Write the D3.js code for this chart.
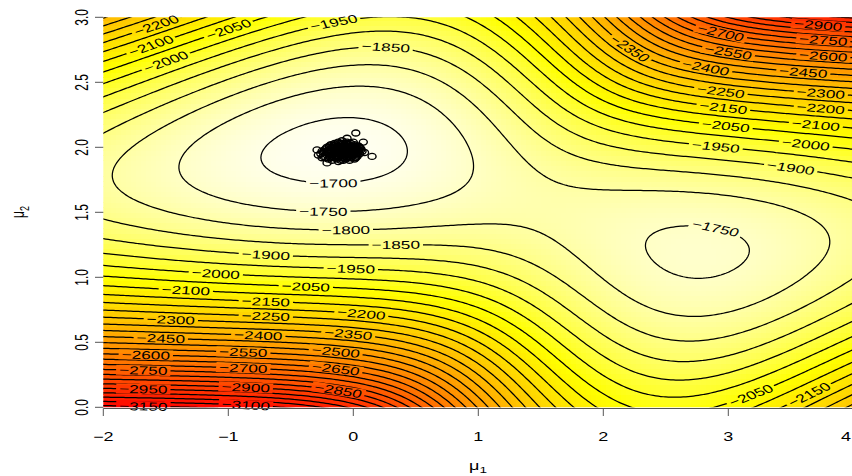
<!DOCTYPE html>
<html><head><meta charset="utf-8">
<script src="https://cdn.jsdelivr.net/npm/d3@7"></script>
<style>body{margin:0;background:#fff;overflow:hidden} text{font-family:"Liberation Sans",Arial,sans-serif}</style>
</head><body><svg id="c" width="852" height="476"></svg>
<script>
// ---------------- data ----------------
const mu1Ticks = [-2,-1,0,1,2,3,4];
const mu2Ticks = [0,0.5,1,1.5,2,2.5,3];
const levels = d3.range(-3300, -1650, 50);          // contour levels, step 50
// observed sample (n = 1005), binned: bin centres and counts
const sampleX = [-2.875,-2.625,-2.375,-2.125,-1.875,-1.625,-1.375,-1.125,-0.875,-0.625,-0.375,-0.125,0.125,0.375,0.625,0.875,1.125,1.375,1.625,1.875,2.125,2.375,2.625,2.875,3.125,3.375,3.625,3.875,4.125,4.375,4.625,4.875,5.125];
const sampleCounts = [1,1,2,3,4,6,8,11,15,19,39,29,34,41,47,55,63,71,77,80,80,75,66,55,42,31,21,13,8,4,2,1,1];
const mixWeight = 0.1983;   // weight of the N(mu1,1) component
// contour labels: [level, approx mu1, approx mu2]
const labelHints = [
[-2200,-1.573,2.94],[-2100,-1.613,2.79],[-2050,-1.0,2.89],[-2000,-1.493,2.67],
[-1950,-0.146,2.94],[-1850,0.267,2.735],[-2350,2.227,2.787],
[-2900,3.72,2.954],[-2700,2.947,2.915],[-2750,3.76,2.838],[-2550,3.0,2.76],[-2600,3.76,2.71],[-2400,2.814,2.633],[-2450,3.6,2.595],[-2250,2.947,2.44],[-2300,3.734,2.415],[-2150,2.96,2.312],[-2200,3.734,2.3],[-2050,2.987,2.172],[-2100,3.707,2.172],[-1950,2.907,2.018],[-2000,3.627,2.03],
[-1900,3.494,1.843],[-1750,2.907,1.364],[-1900,-0.693,1.185],[-2000,-1.093,1.031],
[-1700,-0.16,1.762],[-1750,-0.24,1.518],[-1800,-0.066,1.372],[-1850,0.347,1.254],[-1950,-0.013,1.064],
[-2100,-1.333,0.902],[-2150,-0.706,0.812],[-2300,-1.466,0.672],[-2250,-0.706,0.71],[-2450,-1.533,0.531],[-2400,-0.76,0.556],[-2600,-1.666,0.41],[-2550,-0.88,0.428],[-2750,-1.68,0.292],[-2700,-0.88,0.3],[-2950,-1.68,0.146],[-2900,-0.853,0.154],[-3150,-1.68,0.01],[-3100,-0.866,0.018],
[-2050,-0.386,0.928],[-2200,0.067,0.71],[-2350,-0.04,0.556],[-2500,-0.146,0.42],[-2650,-0.133,0.287],[-2850,-0.133,0.112],
[-2050,3.174,0.095],[-2150,3.654,0.095]];
// MCMC sample (mu1, mu2)
const chainPoints = [
[-0.20,1.91],[-0.13,1.91],[-0.06,1.91],[0.01,1.91],
[-0.24,1.93],[-0.17,1.93],[-0.11,1.93],[-0.04,1.93],[0.03,1.93],
[-0.26,1.95],[-0.19,1.95],[-0.12,1.95],[-0.08,1.95],[-0.02,1.95],[0.05,1.95],
[-0.25,1.97],[-0.18,1.97],[-0.14,1.97],[-0.09,1.97],[-0.03,1.97],[0.02,1.97],[0.07,1.97],
[-0.22,1.99],[-0.16,1.99],[-0.10,1.99],[-0.05,1.99],[0.00,1.99],[0.06,1.99],
[-0.19,2.01],[-0.12,2.01],[-0.07,2.01],[-0.01,2.01],[0.04,2.01],
[-0.15,2.03],[-0.08,2.03],[-0.02,2.03],
[-0.15,1.92],[-0.09,1.92],[-0.02,1.92],[-0.21,1.96],[-0.15,1.96],[-0.05,1.96],[0.01,1.96],
[-0.12,1.98],[-0.07,1.98],[0.04,1.98],[-0.14,2.00],[-0.03,2.00],[0.02,2.00],[-0.10,2.02],[-0.04,2.02],
[-0.14,1.94],[-0.06,1.94],[0.00,1.94],[-0.11,1.96],[-0.01,1.98],[-0.18,2.02],[-0.23,1.98],[-0.08,1.90],
[-0.17,1.90],[-0.10,1.90],[-0.03,1.90],[-0.22,1.92],[-0.12,1.92],[-0.05,1.92],[0.02,1.92],
[-0.21,1.94],[-0.17,1.94],[-0.10,1.94],[-0.03,1.94],[0.03,1.94],[-0.24,1.96],[-0.18,1.96],[-0.08,1.96],[-0.02,1.96],[0.04,1.96],
[-0.20,1.98],[-0.16,1.98],[-0.10,1.98],[-0.04,1.98],[0.01,1.98],[0.06,1.98],[-0.21,2.00],[-0.17,2.00],[-0.10,2.00],[-0.06,2.00],[0.00,2.00],[0.05,2.00],
[-0.15,2.02],[-0.07,2.02],[0.01,2.02],[-0.12,2.04],[-0.05,2.04],[0.00,2.04],[-0.09,2.05],[-0.05,2.07],[0.08,2.04],
[-0.19,1.93],[-0.13,1.93],[-0.07,1.93],[-0.01,1.93],[-0.16,1.95],[-0.10,1.95],[-0.05,1.95],[0.02,1.95],
[-0.21,1.97],[-0.12,1.97],[-0.06,1.97],[0.04,1.97],[-0.13,1.99],[-0.08,1.99],[-0.02,1.99],[0.03,1.99],
[-0.16,2.01],[-0.09,2.01],[-0.04,2.01],[0.01,2.01],[-0.11,2.03],[-0.05,2.03],[-0.18,1.92],[-0.08,1.92],
[0.02,2.11],[0.15,1.93],[-0.29,1.98],[-0.25,1.92],[-0.21,1.88],[-0.12,1.89],[-0.28,1.94],[0.09,1.96]];

// ---------------- layout ----------------
const W=852,H=476,SX=1.5;   // SX: horizontal stretch of glyphs in the original
const xS=d3.scaleLinear().domain([-2,4]).range([103.3,853.3]);
const yS=d3.scaleLinear().domain([0,3]).range([407.3,17.3]);
const svg=d3.select('#c');
const defs=svg.append('defs');
defs.append('clipPath').attr('id','plotclip').append('rect').attr('x',xS(-2)).attr('y',yS(3)).attr('width',xS(4)-xS(-2)).attr('height',yS(0)-yS(3));

// ---------------- log-likelihood surface ----------------
const SQ2PI=Math.sqrt(2*Math.PI);
const phi=z=>Math.exp(-0.5*z*z)/SQ2PI;
const step=0.02,m1s=-2.06,m2s=-0.06;
const nx=Math.round((4.06-m1s)/step)+1, ny=Math.round((3.06-m2s)/step)+1;
const phiX=d3.range(nx).map(i=>sampleX.map(x=>phi(x-(m1s+i*step))));
const phiY=d3.range(ny).map(j=>sampleX.map(x=>phi(x-(m2s+j*step))));
const vals=new Float64Array(nx*ny);
for(let j=0;j<ny;j++)for(let i=0;i<nx;i++){let L=0;const a=phiX[i],b=phiY[j];for(let k=0;k<sampleX.length;k++)L+=sampleCounts[k]*Math.log(mixWeight*a[k]+(1-mixWeight)*b[k]);vals[j*nx+i]=L;}
let zmin=Infinity,zmax=-Infinity;
for(let j=0;j<ny;j++)for(let i=0;i<nx;i++){const m1=m1s+i*step,m2=m2s+j*step;if(m1<-2||m1>4||m2<0||m2>3)continue;const v=vals[j*nx+i];if(v<zmin)zmin=v;if(v>zmax)zmax=v;}
// R heat.colors style: red -> yellow -> near white
function heat(f){f=Math.max(0,Math.min(1,f));if(f<0.75)return `rgb(255,${Math.round(255*f/0.75)},0)`;const s=1-(f-0.75)/0.25*0.95;return `rgb(255,255,${Math.round(255*(1-s))})`;}
const cells=[];
for(let j=3;j<ny;j+=2)for(let i=3;i<nx;i+=2){const m1=m1s+i*step,m2=m2s+j*step;if(m1<-2.03||m1>4.03||m2<-0.03||m2>3.03)continue;cells.push([m1,m2,vals[j*nx+i]]);}
svg.append('g').attr('clip-path','url(#plotclip)').selectAll('rect').data(cells).join('rect')
  .attr('x',d=>xS(d[0]-0.02)).attr('y',d=>yS(d[1]+0.02)).attr('width',xS(0.04)-xS(0)+0.6).attr('height',yS(0)-yS(0.04)+0.6)
  .attr('fill',d=>heat((d[2]-zmin)/(zmax-zmin))).attr('shape-rendering','crispEdges');

// ---------------- contours ----------------
const contours=d3.contours().size([nx,ny]).thresholds(levels)(Array.from(vals));
const proj=(x,y)=>[xS(m1s+(x-0.5)*step),yS(m2s+(y-0.5)*step)];
const path=d3.geoPath(d3.geoTransform({point(x,y){const p=proj(x,y);this.stream.point(p[0],p[1]);}}));
const mask=defs.append('mask').attr('id','lblmask').attr('maskUnits','userSpaceOnUse').attr('x',0).attr('y',0).attr('width',W).attr('height',H);
mask.append('rect').attr('width',W).attr('height',H).attr('fill','white');
svg.append('g').attr('clip-path','url(#plotclip)').append('g').attr('mask','url(#lblmask)')
  .selectAll('path').data(contours).join('path').attr('d',path).attr('fill','none').attr('stroke','#000').attr('stroke-width',1.25);
const lblG=svg.append('g');
const x0=xS(-2),x1=xS(4),y0=yS(3),y1=yS(0);
labelHints.forEach(([lev,m1,m2])=>{
  const c=contours.find(c=>c.value===lev); if(!c)return;
  const hx=xS(m1),hy=yS(m2); let bestD=Infinity,bp=null,ring=null,bi=0;
  c.coordinates.forEach(poly=>poly.forEach(r=>{r.forEach((pt,i)=>{const q=proj(pt[0],pt[1]);if(q[0]<x0||q[0]>x1||q[1]<y0||q[1]>y1)return;const d=(q[0]-hx)**2+(q[1]-hy)**2;if(d<bestD){bestD=d;bp=q;ring=r;bi=i;}});}));
  if(!bp)return;
  const n=ring.length; const pa=proj(...ring[(bi-5+n)%n]), pb=proj(...ring[(bi+5)%n]);
  let ang=Math.atan2(pb[1]-pa[1],(pb[0]-pa[0])/SX)*180/Math.PI; if(ang>90)ang-=180; if(ang<-90)ang+=180;
  const tr=`translate(${bp[0]},${bp[1]}) scale(${SX},1) rotate(${ang})`;
  const t=lblG.append('text').attr('transform',tr).attr('text-anchor','middle').attr('dy','0.36em').attr('font-size',11.5).text('\u2212'+Math.abs(lev));
  const w=t.node().getComputedTextLength();
  mask.append('rect').attr('x',-w/2-2).attr('y',-5).attr('width',w+4).attr('height',10).attr('transform',tr).attr('fill','black');
});

// ---------------- MCMC points ----------------
svg.append('g').selectAll('ellipse').data(chainPoints).join('ellipse')
  .attr('cx',d=>xS(d[0])).attr('cy',d=>yS(d[1])).attr('rx',4).attr('ry',3)
  .attr('fill','none').attr('stroke','#000').attr('stroke-width',1.4);

// ---------------- axes ----------------
const ax=svg.append('g').attr('stroke','#555').attr('fill','none');
ax.append('line').attr('x1',xS(-2)).attr('x2',xS(4)).attr('y1',408.5).attr('y2',408.5);
ax.selectAll('.xt').data(mu1Ticks).join('line').attr('x1',d=>xS(d)).attr('x2',d=>xS(d)).attr('y1',408.5).attr('y2',416);
ax.selectAll('.yt').data(mu2Ticks).join('line').attr('x1',95).attr('x2',103.3).attr('y1',d=>yS(d)).attr('y2',d=>yS(d));
svg.append('g').selectAll('text').data(mu1Ticks).join('text')
  .attr('transform',d=>`translate(${Math.min(xS(d),846)},441) scale(${SX},1)`).attr('text-anchor','middle').attr('font-size',12)
  .text(d=>d<0?'\u2212'+Math.abs(d):d);
svg.append('g').selectAll('text').data(mu2Ticks).join('text')
  .attr('transform',d=>`translate(88,${yS(d)}) scale(${SX},1) rotate(-90)`).attr('text-anchor','middle').attr('font-size',12)
  .text(d=>d.toFixed(1));
const t1=svg.append('text').attr('transform',`translate(478,470) scale(${SX},1)`).attr('text-anchor','middle').attr('font-size',12);
t1.append('tspan').text('\u03bc');t1.append('tspan').attr('font-size',9).attr('dy',3).text('1');
const t2=svg.append('text').attr('transform',`translate(24,212) scale(${SX},1) rotate(-90)`).attr('text-anchor','middle').attr('font-size',12);
t2.append('tspan').text('\u03bc');t2.append('tspan').attr('font-size',9).attr('dy',3).text('2');
</script></body></html>
